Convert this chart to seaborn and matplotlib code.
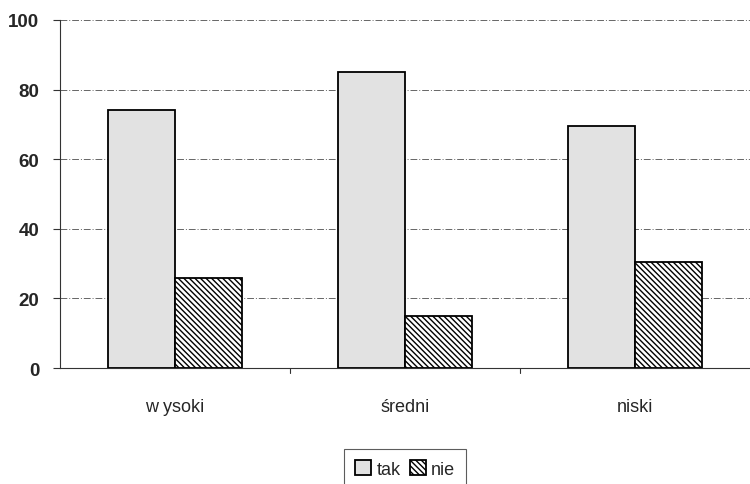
import matplotlib
matplotlib.use("Agg")
import matplotlib.pyplot as plt
import seaborn as sns
import pandas as pd

# dane
kategorie = ['w ysoki', 'średni', 'niski']
odpowiedzi = ['tak', 'nie']
tak = [74.1, 85.1, 69.5]
nie = [25.9, 14.9, 30.5]

df = pd.DataFrame({
    'kategoria': kategorie * 2,
    'odp': ['tak'] * 3 + ['nie'] * 3,
    'procent': tak + nie,
})

sns.set_style('white')
plt.rcParams['font.family'] = ['Liberation Sans', 'DejaVu Sans']
plt.rcParams['hatch.linewidth'] = 1.0

fig = plt.figure(figsize=(7.5, 4.85), dpi=100)
ax = fig.add_axes([0.08, 0.239, 0.92, 0.718])

sns.barplot(data=df, x='kategoria', y='procent', hue='odp', order=kategorie,
            hue_order=odpowiedzi, palette=['#e2e2e2', 'white'],
            width=0.58, edgecolor='black', linewidth=1.3, saturation=1,
            ax=ax, legend=False)

# kreskowanie dla "nie"
for p in ax.containers[1]:
    p.set_hatch('\\\\\\\\\\\\')

ax.set_ylim(0, 100)
ax.set_xlim(-0.5, 2.5)
ax.set_yticks([0, 20, 40, 60, 80, 100])
ax.yaxis.grid(True, color='#666666', linestyle=(0, (7, 2, 1, 2)), linewidth=0.7)
ax.set_axisbelow(True)
ax.set_xlabel('')
ax.set_ylabel('')

for s in ['top', 'right']:
    ax.spines[s].set_visible(False)
ax.spines['left'].set_color('#333333')
ax.spines['bottom'].set_color('#333333')

ax.tick_params(axis='y', left=True, length=5, width=0.8, color='#333333',
               labelsize=13.5, pad=10)
for t in ax.get_yticklabels():
    t.set_fontweight('bold')
ax.set_xticks([0, 1, 2])
ax.tick_params(axis='x', bottom=False, labelsize=13, pad=18)
for xb in [0.5, 1.5]:
    ax.plot([xb, xb], [0, -1.5], color='#333333', lw=0.8, clip_on=False)

handles = [ax.containers[0][0], ax.containers[1][0]]
leg = ax.legend(handles, odpowiedzi, loc='upper center', bbox_to_anchor=(0.5, -0.207),
                ncol=2, frameon=True, fontsize=13, handlelength=0.9,
                handleheight=0.9, handletextpad=0.3, columnspacing=0.5,
                borderpad=0.6, fancybox=False, edgecolor='#333333')
leg.get_frame().set_linewidth(0.8)

fig.savefig('out.png', dpi=100)
